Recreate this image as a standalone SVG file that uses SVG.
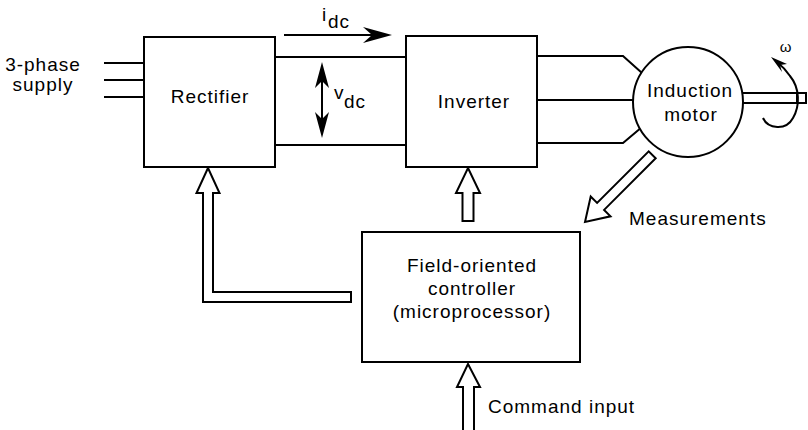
<svg xmlns="http://www.w3.org/2000/svg" width="808" height="430" viewBox="0 0 808 430">
<style>
.box{fill:#fff;stroke:#000;stroke-width:2}
.ln{fill:none;stroke:#000;stroke-width:2}
.hollow{fill:#fff;stroke:#000;stroke-width:2;stroke-linejoin:miter}
.t{font-family:"Liberation Sans",Arial,sans-serif;font-size:19px;letter-spacing:1px;fill:#000}
.m{text-anchor:middle}
</style>
<g id="connectors">
<path class="ln" d="M104,63 H144 M104,80 H144 M104,97 H144"/>
<path class="ln" d="M275,57 H406 M275,145 H406"/>
<path class="ln" d="M284,35 H374"/>
<path d="M392,35 L363,27 L372,35 L363,43 Z" fill="#000"/>
<path class="ln" d="M322,80 V120"/>
<path d="M322,62 L329,88 L322,81 L315,88 Z M322,138 L329,112 L322,119 L315,112 Z" fill="#000"/>
<path class="ln" d="M537,56 H623 L642,73 M537,100 H633 M537,143 H623 L642,127"/>
<path class="hollow" d="M208,168 L219.5,193 L213,193 L213,292 L351,292 L351,302 L203,302 L203,193 L196.5,193 Z"/>
<path class="hollow" d="M468,168 L480,193 L473.5,193 L473.5,221 L462.5,221 L462.5,193 L456,193 Z"/>
<path class="hollow" d="M468,364 L480,387 L474,387 L474,432 L463,432 L463,387 L457,387 Z"/>
<path class="hollow" d="M585,222 L590.7,196.5 L597.1,202.9 L648.7,151.3 L655.7,158.3 L604.1,209.9 L610.5,216.3 Z"/>
</g>
<g id="rectifier">
<rect class="box" x="144" y="37" width="131" height="130"/>
<text class="t m" x="210" y="103">Rectifier</text>
</g>
<g id="inverter">
<rect class="box" x="406" y="36" width="131" height="131"/>
<text class="t m" x="474" y="108">Inverter</text>
</g>
<g id="motor">
<circle class="box" cx="688" cy="102" r="55"/>
<text class="t m" x="690" y="97">Induction</text>
<text class="t m" x="691" y="121">motor</text>
<path class="ln" d="M743,93 H806 V103 H743 M797,93 V103"/>
<path class="ln" d="M763,118 C768,129 786,131 793,118 C800,106 800,88 790,76 C786,70 782,66 778,63"/>
<path d="M771,57 L787,64 L780,65 L782,72 Z" fill="#000"/>
<text class="t m" x="786" y="52" style="font-size:15px">ω</text>
</g>
<g id="controller">
<rect class="box" x="362" y="232" width="218" height="130"/>
<text class="t m" x="472" y="272">Field-oriented</text>
<text class="t m" x="472" y="295">controller</text>
<text class="t m" x="472" y="318">(microprocessor)</text>
</g>
<g id="labels">
<text class="t m" x="43" y="71">3-phase</text>
<text class="t m" x="43" y="91">supply</text>
<text class="t" x="322" y="21">i</text>
<text class="t" x="328" y="28">dc</text>
<text class="t" x="334" y="99">v</text>
<text class="t" x="344" y="108">dc</text>
<text class="t" x="629" y="225">Measurements</text>
<text class="t" x="488" y="413">Command input</text>
</g>
</svg>
